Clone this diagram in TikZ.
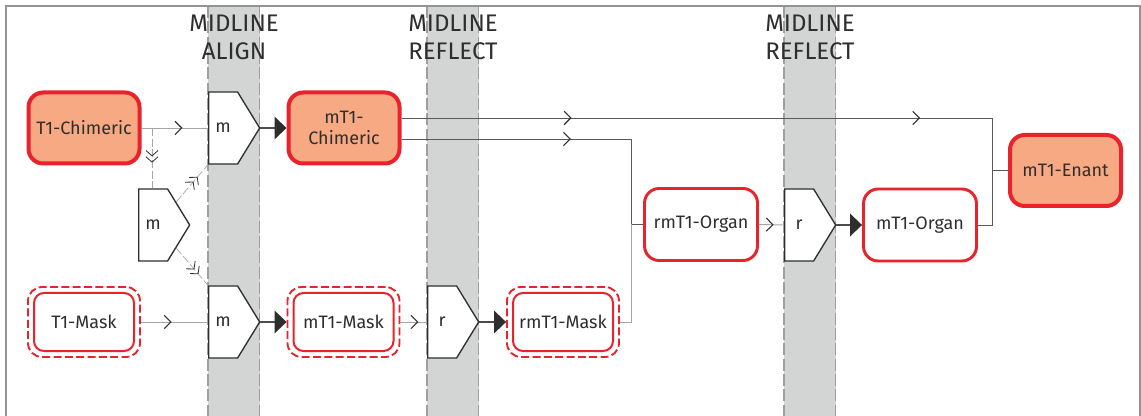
\documentclass[tikz,border=0pt]{standalone}
\usepackage{fontspec}
\setmainfont{Fira Sans}
\usetikzlibrary{arrows.meta, shapes.symbols, decorations.markings, fit}

\definecolor{lred}{HTML}{E8232B}
\definecolor{salmon}{HTML}{F6A982}
\definecolor{bandgray}{HTML}{D3D5D5}
\definecolor{ink}{HTML}{2E2E2E}

\tikzset{
    band/.style={fill=bandgray},
    bandedge/.style={draw=gray!75, line width=0.8pt, dash pattern=on 9pt off 2.5pt},
    frame/.style={draw=gray!85, line width=0.8pt},
    captxt/.style={font=\fontsize{18}{20.5}\selectfont, text=ink, align=center},
    lbl/.style={font=\fontsize{13.5}{16}\selectfont, text=ink, align=center},
    chim/.style={lbl, draw=lred, fill=salmon, line width=3pt, rounded corners=11pt, minimum width=83.25pt, minimum height=53.25pt},
    organ/.style={lbl, draw=lred, fill=white, line width=2.2pt, rounded corners=11pt, minimum width=84.75pt, minimum height=54pt},
    maskin/.style={lbl, draw=lred, fill=white, line width=1.5pt, rounded corners=7.5pt, minimum width=75pt, minimum height=43.5pt},
    maskout/.style={draw=lred, line width=1.4pt, dash pattern=on 6pt off 2.5pt, rounded corners=10.5pt, inner sep=3.75pt},
    op/.style={lbl, shape=signal, signal to=east, signal pointer angle=117, draw=ink, fill=white, line width=1pt, minimum width=38.25pt, minimum height=54pt, inner sep=0pt, anchor=west},
    wire/.style={draw=gray!70, line width=0.7pt},
    wireD/.style={draw=black!65, line width=0.7pt},
    dwire/.style={draw=gray!70, line width=0.5pt, dash pattern=on 6pt off 2pt},
    tipat/.style={postaction={decorate, decoration={markings, mark=at position #1 with {\arrow[ink, line width=0.8pt]{Straight Barb[length=5pt, width=10pt]}}}}},
    dtipat/.style={postaction={decorate, decoration={markings, mark=at position #1 with {\arrow[ink, line width=0.6pt]{Straight Barb[length=4pt, width=9pt] Straight Barb[length=4pt, width=9pt]}}}}},
    flow/.style={draw=black!70, line width=0.9pt, -{Triangle[length=9pt, width=17pt, color=ink]}},
  }

\begin{document}
\begin{tikzpicture}[x=0.75pt, y=-0.75pt]
    \useasboundingbox (0,0) rectangle (1141,416);
    % midline bands
    \foreach \bx in {208,427,784} {
        \fill[band] (\bx,6) rectangle ++(51.5,410);
        \draw[bandedge] (\bx,6) -- (\bx,416) (\bx+51.5,6) -- (\bx+51.5,416);
    }
    \draw[frame] (6,416) -- (6,6) -- (1140,6) -- (1140,416);
    \node[captxt] (capAlign) at (234,37.5) {MIDLINE\\ALIGN};
    \node[captxt] (capRefl) at (453,37.5) {MIDLINE\\REFLECT};
    \node[captxt] (capReflB) at (810,37.5) {MIDLINE\\REFLECT};

    % images and operations
    \node[chim] (tchim) at (84,128) {T1-Chimeric};
    \node[op] (mA) at (208,128) {m};
    \node[chim] (mtchim) at (344,128) {mT1-\\Chimeric};
    \node[op] (mS) at (138,225) {m};
    \node[maskin] (tmask) at (84,322) {T1-Mask};
    \node[maskout, fit=(tmask)] (tmaskO) {};
    \node[op] (mB) at (208,322) {m};
    \node[maskin] (mtmask) at (343.5,322) {mT1-Mask};
    \node[maskout, fit=(mtmask)] (mtmaskO) {};
    \node[op] (rA) at (427,322) {r};
    \node[maskin] (rmtmask) at (563,322) {rmT1-Mask};
    \node[maskout, fit=(rmtmask)] (rmtmaskO) {};
    \node[organ] (rmtorgan) at (701,224.5) {rmT1-Organ};
    \node[op] (rB) at (784,225) {r};
    \node[organ] (mtorgan) at (920,225) {mT1-Organ};
    \node[chim] (mtenant) at (1065.5,170.5) {mT1-Enant};

    % connectors
    \coordinate (split) at (152,128);
    \coordinate (jO) at (631,224.5);
    \coordinate (jE) at (992,170.5);
    \draw[wire, tipat=30.75pt] (tchim.east) -- (mA.west);
    \draw[dwire, dtipat=26pt] (split) -- (split |- mS.north);
    \draw[dwire, dtipat=-12pt] (mS.45) -- (mA.south west);
    \draw[dwire, dtipat=-11pt] (mS.-45) -- (mB.north west);
    \draw[flow] (mA.east) -- (mtchim.west);
    \draw[wireD, tipat=127.5pt, tipat=389pt] ([yshift=7.5pt]mtchim.east) -| (jE) -- (mtenant.west);
    \draw[wireD, tipat=127pt] ([yshift=-8.25pt]mtchim.east) -| (jO) -- (rmtorgan.west);
    \draw[wire] (rmtmaskO.east) -| (jO);
    \draw[wire, tipat=11pt] (rmtorgan.east) -- (rB.west);
    \draw[flow] (rB.east) -- (mtorgan.west);
    \draw[wireD] (mtorgan.east) -| (jE);
    \draw[wire, tipat=23pt] (tmaskO.east) -- (mB.west);
    \draw[flow] (mB.east) -- (mtmaskO.west);
    \draw[wire, tipat=13.5pt] (mtmaskO.east) -- (rA.west);
    \draw[flow] (rA.east) -- (rmtmaskO.west);
\end{tikzpicture}
\end{document}
